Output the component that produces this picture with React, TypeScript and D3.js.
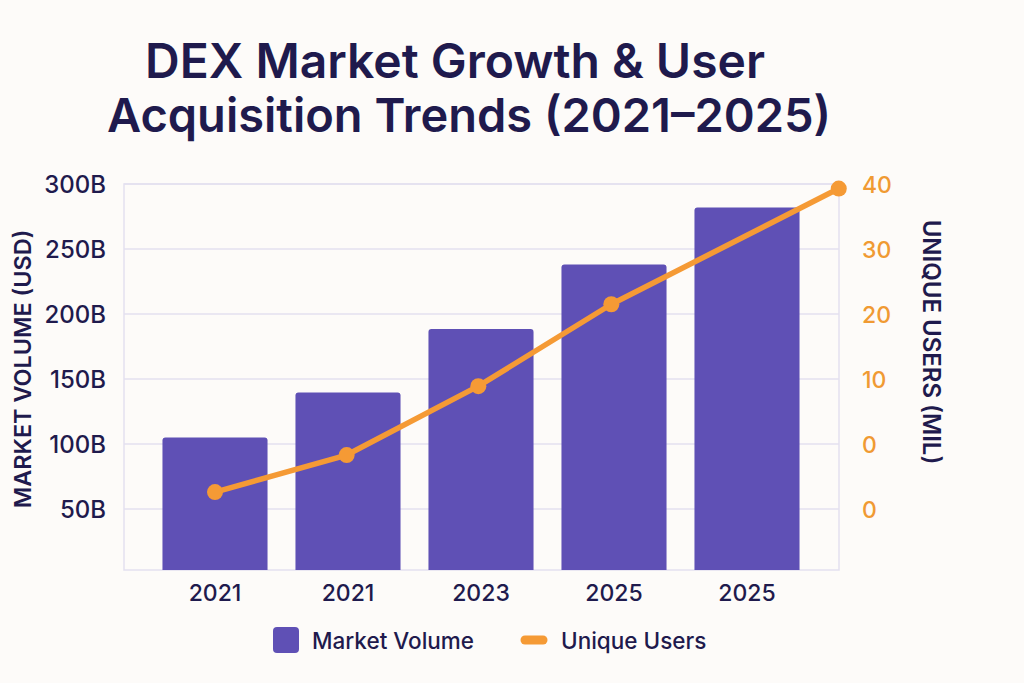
import { useEffect, useRef } from 'react'
import * as d3 from 'd3'

const years = ['2021', '2021', '2023', '2025', '2025']
const volumes = [105, 139.5, 188.5, 238, 282]
const users = [-7.4, -1.7, 8.9, 21.5, 39.3]
// the last point sits past the last bar, out at the plot edge
const userSlots = [0, 0.99, 1.98, 2.98, 4.69]
const volumeTicks = [300, 250, 200, 150, 100, 50]
const userTicks = [40, 30, 20, 10, 0, -10]
const userTickLabels = ['40', '30', '20', '10', '0', '0']
const titleLines = ['DEX Market Growth & User', 'Acquisition Trends (2021–2025)']

const NAVY = '#1f1a4d'
const ORANGE = '#f59a35'
const PURPLE = '#5f50b5'
const GRID = '#e3e1ef'
const FONT = 'Inter, sans-serif'

export default function App() {
  const ref = useRef<SVGSVGElement>(null)

  useEffect(() => {
    if (!ref.current) return
    const svg = d3.select(ref.current)
    svg.selectAll('*').remove()

    const plot = { left: 124, right: 839, top: 184, bottom: 570 }

    svg.append('rect').attr('width', 1024).attr('height', 683).attr('fill', '#fdfbf9')

    // Title
    svg
      .selectAll('text.title')
      .data(titleLines)
      .enter()
      .append('text')
      .attr('class', 'title')
      .attr('x', (_, i) => (i === 0 ? 455 : 469))
      .attr('y', (_, i) => (i === 0 ? 78 : 132))
      .attr('text-anchor', 'middle')
      .style('font', (_, i) => `600 ${i === 0 ? 48 : 47}px ${FONT}`)
      .attr('fill', NAVY)
      .text((d) => d)

    // Scales
    const x = d3
      .scaleBand<number>()
      .domain(d3.range(years.length))
      .range([148.5, 813.5])
      .paddingInner(0.21)
      .paddingOuter(0.105)
    const slot = d3
      .scaleLinear()
      .domain([0, 1])
      .range([x(0)! + x.bandwidth() / 2, x(1)! + x.bandwidth() / 2])
    const yLeft = d3.scaleLinear().domain([3, 300]).range([plot.bottom, plot.top])
    const yRight = d3.scaleLinear().domain([40, -10]).range([plot.top, 509])

    // Grid
    svg
      .append('g')
      .selectAll('line')
      .data(volumeTicks)
      .enter()
      .append('line')
      .attr('x1', plot.left)
      .attr('x2', plot.right)
      .attr('y1', (d) => yLeft(d))
      .attr('y2', (d) => yLeft(d))
      .attr('stroke', GRID)
      .attr('stroke-width', 1.5)

    svg
      .append('rect')
      .attr('x', plot.left)
      .attr('y', plot.top)
      .attr('width', plot.right - plot.left)
      .attr('height', plot.bottom - plot.top)
      .attr('fill', 'none')
      .attr('stroke', GRID)
      .attr('stroke-width', 1.5)

    // Bars
    svg
      .append('g')
      .selectAll('rect')
      .data(volumes)
      .enter()
      .append('path')
      .attr('d', (d, i) => {
        const x0 = x(i)!
        const x1 = x0 + x.bandwidth()
        const top = yLeft(d)
        return `M${x0},${plot.bottom}V${top + 3}Q${x0},${top} ${x0 + 3},${top}H${x1 - 3}Q${x1},${top} ${x1},${top + 3}V${plot.bottom}Z`
      })
      .attr('fill', PURPLE)

    // Users line
    const line = d3
      .line<number>()
      .x((_, i) => slot(userSlots[i]))
      .y((d) => yRight(d))
    svg
      .append('path')
      .datum(users)
      .attr('d', line)
      .attr('fill', 'none')
      .attr('stroke', ORANGE)
      .attr('stroke-width', 5.5)
      .attr('stroke-linejoin', 'round')
    svg
      .append('g')
      .selectAll('circle')
      .data(users)
      .enter()
      .append('circle')
      .attr('cx', (_, i) => slot(userSlots[i]))
      .attr('cy', (d) => yRight(d))
      .attr('r', 8)
      .attr('fill', ORANGE)

    // Axes
    const leftAxis = svg
      .append('g')
      .attr('transform', `translate(${plot.left}, 1)`)
      .call(
        d3
          .axisLeft(yLeft)
          .tickValues(volumeTicks)
          .tickFormat((d) => `${d}B`)
          .tickSize(0)
          .tickPadding(18)
      )
    leftAxis.select('.domain').remove()
    leftAxis.selectAll('text').style('font', `500 24px ${FONT}`).attr('fill', NAVY)

    const rightAxis = svg
      .append('g')
      .attr('transform', `translate(${plot.right}, 1)`)
      .call(
        d3
          .axisRight(yRight)
          .tickValues(userTicks)
          .tickFormat((_, i) => userTickLabels[i])
          .tickSize(0)
          .tickPadding(23)
      )
    rightAxis.select('.domain').remove()
    rightAxis.selectAll('text').style('font', `500 23px ${FONT}`).attr('fill', '#f09a33')

    const bottomAxis = svg
      .append('g')
      .attr('transform', `translate(0, ${plot.bottom})`)
      .call(
        d3
          .axisBottom(x)
          .tickFormat((i) => years[i])
          .tickSize(0)
          .tickPadding(15)
      )
    bottomAxis.select('.domain').remove()
    bottomAxis.selectAll('text').style('font', `500 23px ${FONT}`).attr('fill', NAVY)

    // Axis labels
    svg
      .append('text')
      .attr('transform', 'translate(31, 369) rotate(-90)')
      .attr('text-anchor', 'middle')
      .style('font', `600 23.4px ${FONT}`)
      .attr('fill', NAVY)
      .text('MARKET VOLUME (USD)')
    svg
      .append('text')
      .attr('transform', 'translate(923, 342) rotate(90)')
      .attr('text-anchor', 'middle')
      .style('font', `600 24px ${FONT}`)
      .attr('fill', NAVY)
      .text('UNIQUE USERS (MIL)')

    // Legend
    svg
      .append('rect')
      .attr('x', 273)
      .attr('y', 627)
      .attr('width', 26)
      .attr('height', 26)
      .attr('rx', 4)
      .attr('fill', PURPLE)
    svg
      .append('text')
      .attr('x', 312)
      .attr('y', 649)
      .style('font', `500 22.5px ${FONT}`)
      .attr('fill', NAVY)
      .text('Market Volume')
    svg
      .append('line')
      .attr('x1', 525)
      .attr('x2', 543)
      .attr('y1', 640)
      .attr('y2', 640)
      .attr('stroke', ORANGE)
      .attr('stroke-width', 9)
      .attr('stroke-linecap', 'round')
    svg
      .append('text')
      .attr('x', 561)
      .attr('y', 649)
      .style('font', `500 22.5px ${FONT}`)
      .attr('fill', NAVY)
      .text('Unique Users')
  }, [])

  return (
    <svg
      ref={ref}
      width={1024}
      height={683}
      style={{ position: 'absolute', left: 0, top: 0, display: 'block' }}
    />
  )
}
